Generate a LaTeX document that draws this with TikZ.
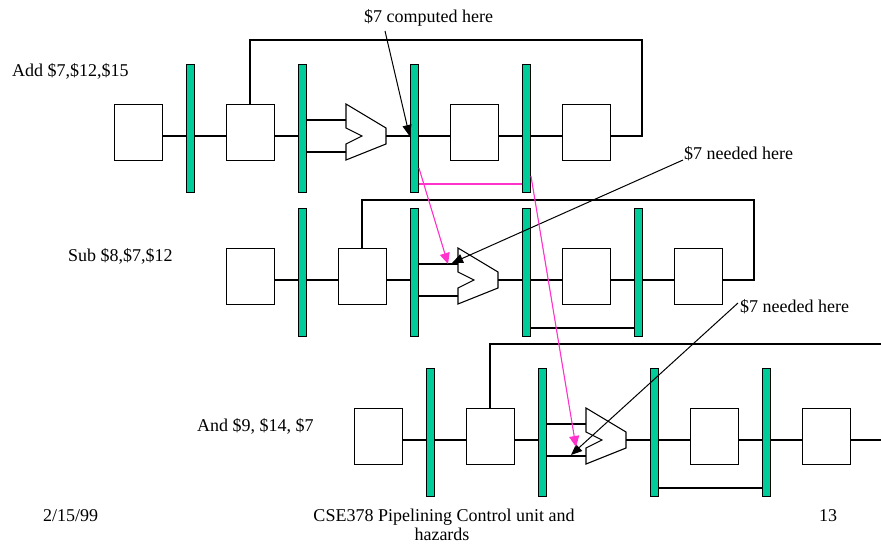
\documentclass[tikz,border=0pt]{standalone}
\usepackage{fontspec}
\setmainfont{Liberation Serif}
\usetikzlibrary{arrows.meta}
\definecolor{barfill}{RGB}{0,204,153}
\definecolor{fwd}{RGB}{255,51,204}
\tikzset{
  stagebox/.style={draw, line width=1pt, minimum width=48pt, minimum height=56pt, inner sep=0pt, fill=white},
  latch/.style={draw, line width=0.9pt, fill=barfill, minimum width=8.5pt, minimum height=128pt, inner sep=0pt},
  wire/.style={line width=1.1pt, draw=black},
  fwdline/.style={line width=1.1pt, draw=fwd},
  fwdarrow/.style={line width=1.1pt, draw=fwd, -{Triangle[length=11pt,width=10pt]}, fill=fwd},
  callout/.style={line width=1pt, draw=black, -{Triangle[length=11pt,width=9pt]}},
  lbl/.style={font=\fontsize{18}{21.6}\selectfont, inner sep=0pt, anchor=base west},
  ctr/.style={font=\fontsize{18}{21.6}\selectfont, inner sep=0pt, anchor=base},
}
% #1 prefix, #2 x of first box, #3 y of main line, #4 y of feedback top, #5 x of feedback right
\newcommand{\pipeRow}[5]{%
  \coordinate (#1y) at (0,#3);
  \node[stagebox] (#1b1) at (#2+24,#3-4) {};
  \node[latch] (#1r1) at (#2+76.25,#3-8) {};
  \node[stagebox] (#1b2) at (#2+136,#3-4) {};
  \node[latch] (#1r2) at (#2+188.25,#3-8) {};
  \node[latch] (#1r3) at (#2+300.25,#3-8) {};
  \node[stagebox] (#1b4) at (#2+360,#3-4) {};
  \node[latch] (#1r4) at (#2+412.25,#3-8) {};
  \node[stagebox] (#1b5) at (#2+472,#3-4) {};
  \coordinate (#1aluA) at (#2+232,#3-16);
  \coordinate (#1aluB) at (#2+232,#3+16);
  \coordinate (#1aluO) at (#2+272,#3);
  \draw[wire, line join=miter] (#2+232,#3-32) -- (#2+272,#3-8) -- (#2+272,#3+8)
     -- (#2+232,#3+24) -- (#2+232,#3+8) -- (#2+248,#3) -- (#2+232,#3-8) -- cycle;
  \draw[wire] (#1b1.east |- #1y) -- (#1r1.west |- #1y);
  \draw[wire] (#1r1.east |- #1y) -- (#1b2.west |- #1y);
  \draw[wire] (#1b2.east |- #1y) -- (#1r2.west |- #1y);
  \draw[wire] (#1r2.east |- #1aluA) -- (#1aluA);
  \draw[wire] (#1r2.east |- #1aluB) -- (#1aluB);
  \draw[wire] (#1aluO) -- (#1r3.west |- #1y);
  \draw[wire] (#1r3.east |- #1y) -- (#1b4.west |- #1y);
  \draw[wire] (#1b4.east |- #1y) -- (#1r4.west |- #1y);
  \draw[wire] (#1r4.east |- #1y) -- (#1b5.west |- #1y);
  \draw[wire] (#1b2.north) -- (#1b2.north |- 0,#4) -- (#5,#4) -- (#5,#3) -- (#1b5.east |- #1y);
}
\begin{document}
\begin{tikzpicture}[x=1pt,y=-1pt]
\useasboundingbox[fill=white] (0,0) rectangle (881,546);

\pipeRow{A}{114}{136}{40}{642}
\pipeRow{B}{226}{280}{200}{754}
\pipeRow{C}{354}{440}{344}{900}

% bypass lines
\draw[fwdline] (Ar3.east |- 0,184) -- (Ar4.west |- 0,184);
\draw[wire] (Br3.east |- 0,328) -- (Br4.west |- 0,328);
\draw[wire] (Cr3.east |- 0,488) -- (Cr4.west |- 0,488);

% labels
\node[lbl] (addl) at (12,76) {Add \$7,\$12,\$15};
\node[lbl] (subl) at (68,261) {Sub \$8,\$7,\$12};
\node[lbl] (andl) at (197,431) {And \$9, \$14, \$7};
\node[lbl] (comp) at (364,23) {\$7 computed here};
\node[lbl] (needA) at (684,159) {\$7 needed here};
\node[lbl] (needB) at (740,312) {\$7 needed here};

% callout arrows
\coordinate (cs1) at (385,31);
\coordinate (cs2) at (683,160);
\coordinate (cs3) at (738,303);
\coordinate (ct2) at (452,263);
\coordinate (ct3) at (571,455);
\draw[callout] (cs1) -- (Ar3.west |- Ay);
\draw[callout] (cs2) -- (ct2);
\draw[callout] (cs3) -- (ct3);

% forwarding arrows
\coordinate (ft1) at (448,264);
\coordinate (ft2) at (576,447);
\draw[fwdarrow] (Ar3.east |- 0,168) -- (ft1);
\draw[fwdarrow] (Ar4.east |- 0,176) -- (ft2);

% footer
\node[lbl] (date) at (43,521) {2/15/99};
\node[ctr] (title1) at (444,521) {CSE378 Pipelining Control unit and};
\node[ctr] (title2) at (442,540) {hazards};
\node[lbl] (page) at (819,521) {13};
\end{tikzpicture}
\end{document}
